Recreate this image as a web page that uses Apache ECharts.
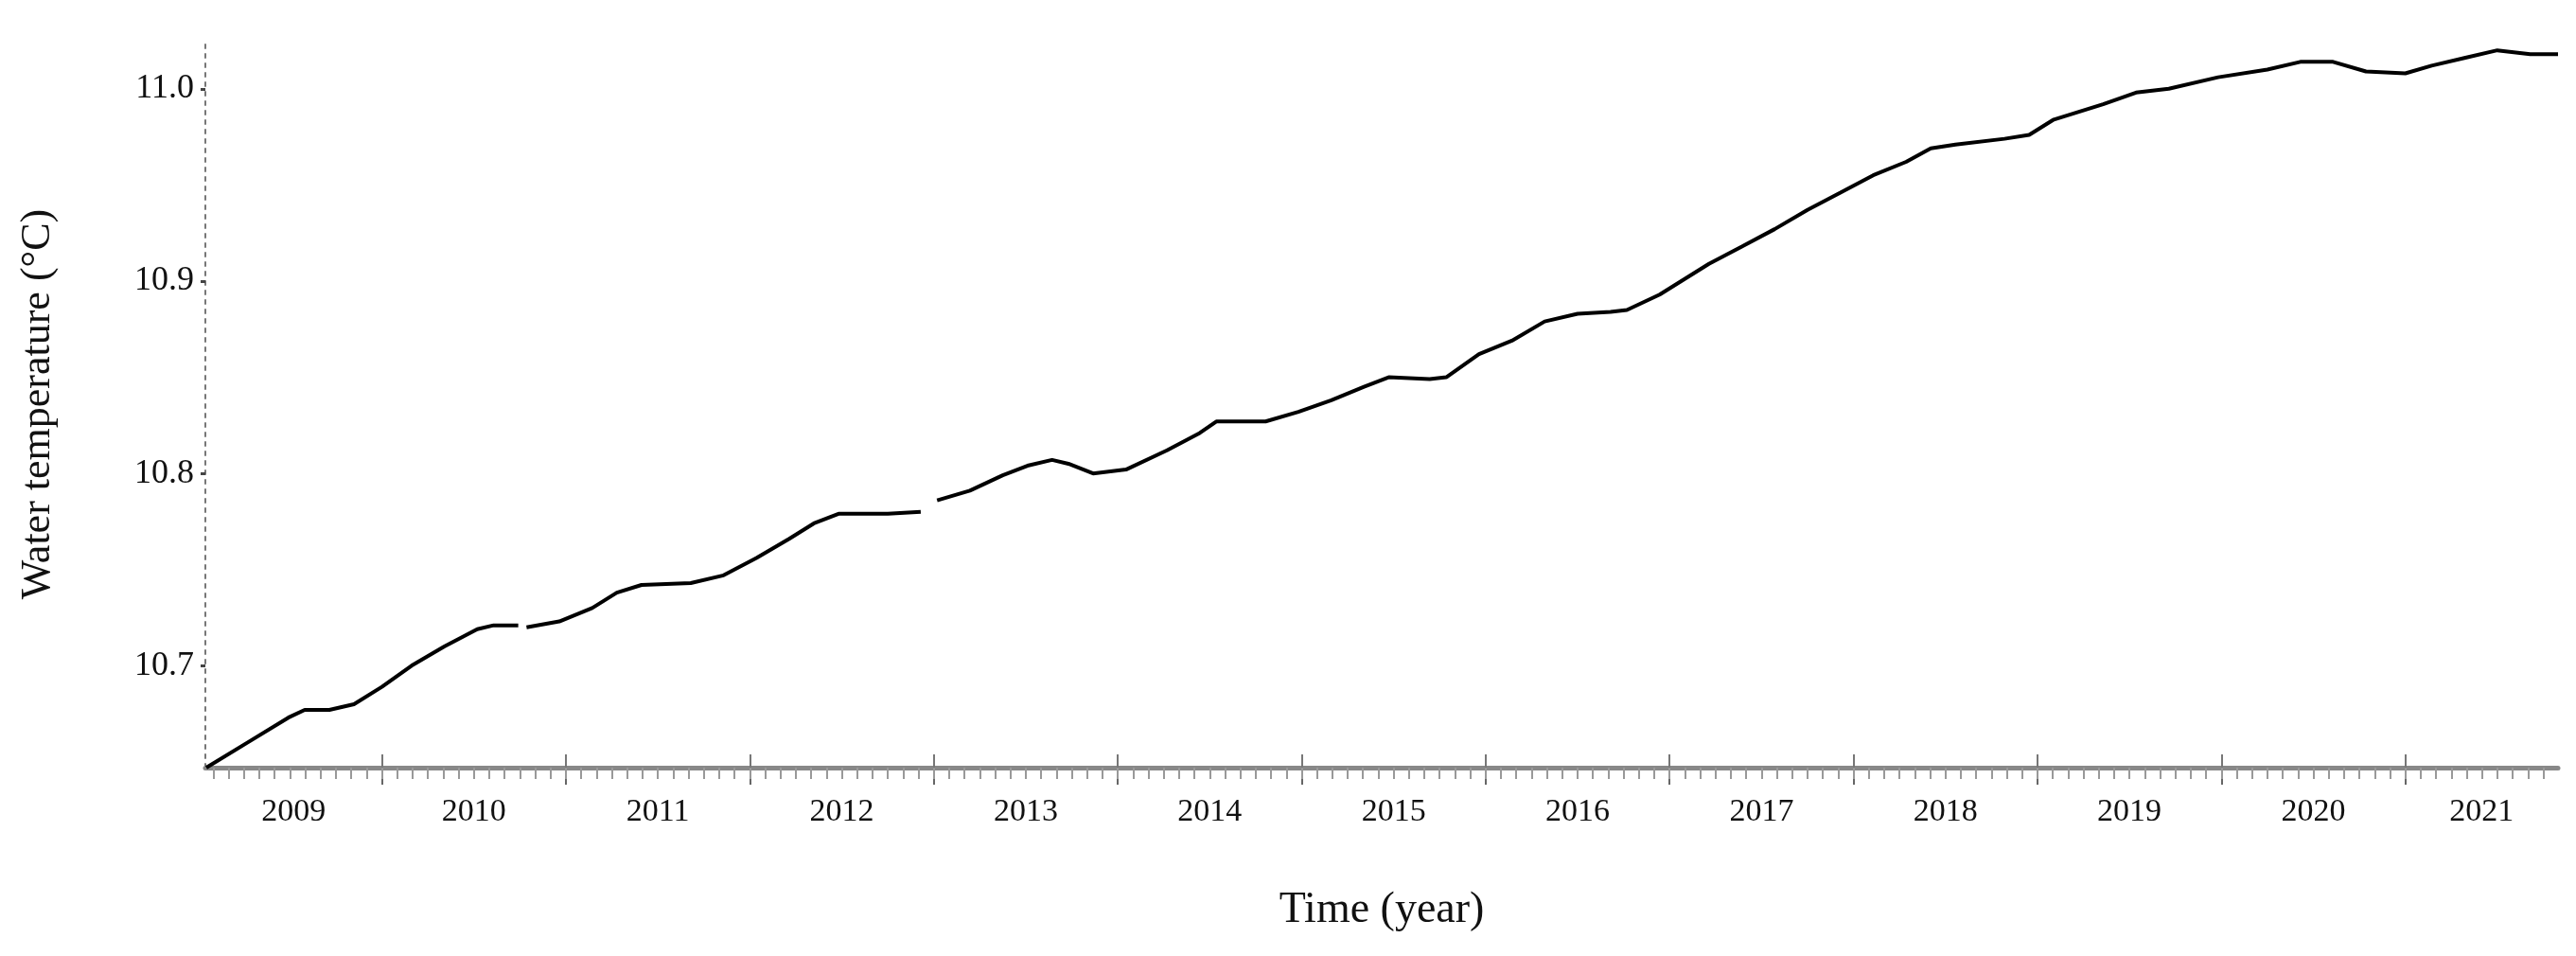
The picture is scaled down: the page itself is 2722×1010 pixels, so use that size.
<!DOCTYPE html>
<html>
<head>
<meta charset="utf-8">
<script src="https://cdn.jsdelivr.net/npm/echarts@6/dist/echarts.min.js"></script>
<style>html,body{margin:0;background:#fff}#main{width:2722px;height:1010px}</style>
</head>
<body>
<div id="main"></div>
<script>
// 时间（年，小数）和水温，null 表示数据缺口
var years = [2009.045, 2009.268, 2009.491, 2009.580, 2009.714, 2009.848, 2010.0, 2010.161, 2010.339, 2010.518, 2010.607, 2010.741, 2010.77,
    2010.786, 2010.964, 2011.143, 2011.277, 2011.411, 2011.679, 2011.857, 2012.036, 2012.214, 2012.348, 2012.482, 2012.750, 2012.929, 2012.97,
    2013.018, 2013.196, 2013.375, 2013.509, 2013.643, 2013.732, 2013.866, 2014.045, 2014.268, 2014.446, 2014.536, 2014.804, 2014.982,
    2015.161, 2015.339, 2015.473, 2015.696, 2015.786, 2015.964, 2016.143, 2016.321, 2016.500, 2016.679, 2016.768, 2016.946, 2017.214,
    2017.393, 2017.571, 2017.750, 2017.929, 2018.107, 2018.286, 2018.420, 2018.554, 2018.821, 2018.955, 2019.089, 2019.357, 2019.536,
    2019.714, 2019.982, 2020.250, 2020.429, 2020.607, 2020.786, 2021.0, 2021.143, 2021.321, 2021.5, 2021.679, 2021.830];
var temps = [10.647, 10.660, 10.673, 10.677, 10.677, 10.680, 10.689, 10.700, 10.710, 10.719, 10.721, 10.721, null,
    10.720, 10.723, 10.730, 10.738, 10.742, 10.743, 10.747, 10.756, 10.766, 10.774, 10.779, 10.779, 10.780, null,
    10.786, 10.791, 10.799, 10.804, 10.807, 10.805, 10.800, 10.802, 10.812, 10.821, 10.827, 10.827, 10.832,
    10.838, 10.845, 10.850, 10.849, 10.850, 10.862, 10.869, 10.879, 10.883, 10.884, 10.885, 10.893, 10.909,
    10.918, 10.927, 10.937, 10.946, 10.955, 10.962, 10.969, 10.971, 10.974, 10.976, 10.984, 10.992, 10.998,
    11.000, 11.006, 11.010, 11.014, 11.014, 11.009, 11.008, 11.012, 11.016, 11.020, 11.018, 11.018];
var yearLabels = [2009, 2010, 2011, 2012, 2013, 2014, 2015, 2016, 2017, 2018, 2019, 2020, 2021];
var yTicks = [10.7, 10.8, 10.9, 11.0];

var xMin = 2009.04, xMax = 2021.83;
var majorTicks = yearLabels.slice(1);
var monthTicks = [];
for (var y = 2009; y <= 2021; y++) {
    for (var m = 0; m < 12; m++) {
        var v = y + m / 12;
        if (v > xMin && v < xMax) monthTicks.push(v);
    }
}
var labelPos = yearLabels.map(function (y) {
    var a = Math.max(y, xMin), b = Math.min(y + 1, xMax);
    return (a + b) / 2;
});

var font = '"Liberation Serif", "Times New Roman", serif';
var myChart = echarts.init(document.getElementById('main'));
var option = {
    backgroundColor: '#fff',
    animation: false,
    grid: { left: 217, right: 19, top: 43, bottom: 199 },
    xAxis: [
        {
            type: 'value', min: xMin, max: xMax,
            name: 'Time (year)', nameLocation: 'middle', nameGap: 128,
            nameTextStyle: { fontFamily: font, fontSize: 46, color: '#111' },
            axisLine: { lineStyle: { color: '#888', width: 5 } },
            axisTick: { customValues: majorTicks, length: 18, lineStyle: { color: '#666', width: 2 } },
            axisLabel: {
                customValues: labelPos, margin: 30, fontFamily: font, fontSize: 34, color: '#111',
                formatter: function (v) { return Math.floor(v); }
            },
            splitLine: { show: false }
        },
        {
            type: 'value', min: xMin, max: xMax, position: 'bottom',
            axisLine: { show: false },
            axisTick: { customValues: monthTicks, length: 12, lineStyle: { color: '#999', width: 2 } },
            axisLabel: { show: false },
            splitLine: { show: false }
        },
        {
            type: 'value', min: xMin, max: xMax, position: 'bottom',
            axisLine: { show: false },
            axisTick: { customValues: majorTicks, inside: true, length: 14, lineStyle: { color: '#777', width: 2 } },
            axisLabel: { show: false },
            splitLine: { show: false }
        }
    ],
    yAxis: {
        type: 'value', min: 10.647, max: 11.025,
        name: 'Water temperature (°C)', nameLocation: 'middle', nameGap: 155,
        nameTextStyle: { fontFamily: font, fontSize: 44, color: '#111' },
        axisLine: { show: true, lineStyle: { color: '#777', width: 2, type: [4, 6] } },
        axisTick: { customValues: yTicks, length: 5, lineStyle: { color: '#444', width: 3 } },
        axisLabel: {
            customValues: yTicks, fontFamily: font, fontSize: 36, color: '#111', margin: 12,
            formatter: function (v) { return v.toFixed(1); }
        },
        splitLine: { show: false }
    },
    series: [{
        type: 'line',
        data: years.map(function (x, i) { return [x, temps[i]]; }),
        showSymbol: false,
        connectNulls: false,
        lineStyle: { color: '#000', width: 4 }
    }]
};
myChart.setOption(option);
</script>
</body>
</html>
